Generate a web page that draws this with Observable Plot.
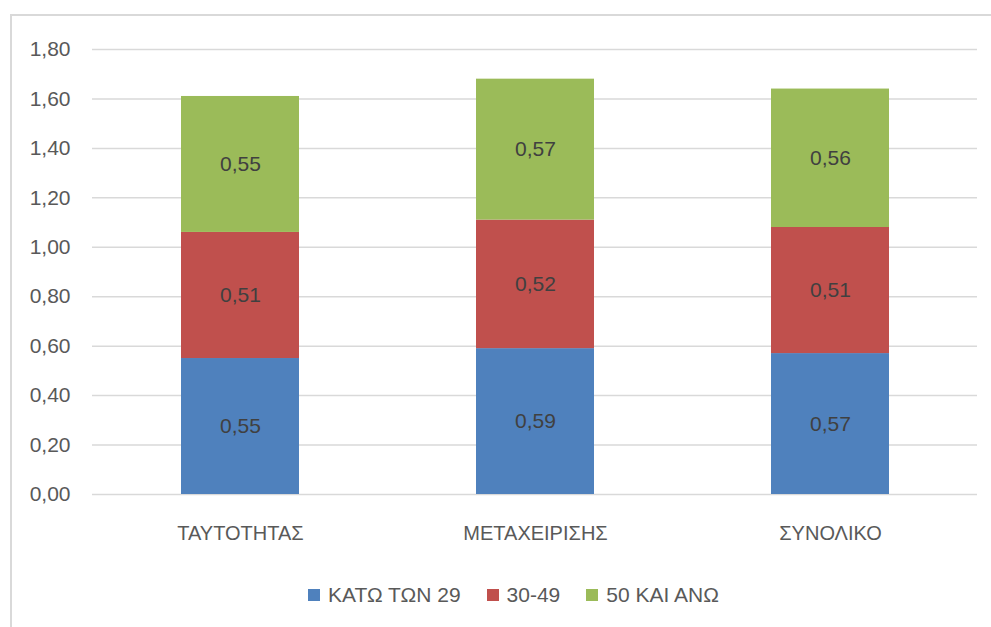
<!DOCTYPE html>
<html>
<head>
<meta charset="utf-8">
<script src="https://cdn.jsdelivr.net/npm/d3@7"></script>
<script src="https://cdn.jsdelivr.net/npm/@observablehq/plot@0.6"></script>
<style>
  html, body { margin: 0; padding: 0; background: #fff; overflow: hidden; width: 991px; height: 627px; }
  #wrap { position: relative; width: 991px; height: 627px; }
  #frame { position: absolute; left: 10px; top: 14px; width: 1100px; height: 800px; border: 2px solid #d9d9d9; box-sizing: border-box; }
  #chart { position: absolute; left: 0; top: 0; }
  #legend { position: absolute; left: 308px; top: 582px; height: 26px; display: flex; align-items: center; font-family: "Liberation Sans", Arial, sans-serif; font-size: 21px; color: #595959; white-space: nowrap; }
  #legend .item { display: flex; align-items: center; margin-right: 26px; }
  #legend .sw { width: 12px; height: 12px; margin-right: 8px; }
</style>
</head>
<body>
<div id="wrap">
  <div id="frame"></div>
  <div id="chart"></div>
  <div id="legend"></div>
</div>
<script>
const categories = ["ΤΑΥΤΟΤΗΤΑΣ", "ΜΕΤΑΧΕΙΡΙΣΗΣ", "ΣΥΝΟΛΙΚΟ"];
const seriesNames = ["ΚΑΤΩ ΤΩΝ 29", "30-49", "50 ΚΑΙ ΑΝΩ"];
const under29 = [0.55, 0.59, 0.57];
const age30to49 = [0.51, 0.52, 0.51];
const over50 = [0.55, 0.57, 0.56];
const seriesColors = ["#4F81BD", "#C0504D", "#9BBB59"];
const yTicks = [0, 0.2, 0.4, 0.6, 0.8, 1.0, 1.2, 1.4, 1.6, 1.8];

const seriesValues = [under29, age30to49, over50];
const data = [];
categories.forEach((c, i) => {
  seriesNames.forEach((s, j) => {
    data.push({category: c, series: s, value: seriesValues[j][i]});
  });
});

const fmt = d => d.toFixed(2).replace(".", ",");
const font = '"Liberation Sans", Arial, sans-serif';

const chart = Plot.plot({
  width: 991,
  height: 560,
  marginLeft: 92,
  marginRight: 14,
  marginTop: 49,
  marginBottom: 66,
  style: {fontFamily: font, fontSize: "20px", color: "#595959", background: "transparent"},
  x: {domain: categories, paddingInner: 0.6, paddingOuter: 0.3, label: null},
  y: {domain: [0, 1.8], label: null},
  color: {domain: seriesNames, range: seriesColors},
  marks: [
    Plot.gridY(yTicks, {stroke: "#d9d9d9", strokeOpacity: 1, strokeWidth: 1.5}),
    Plot.barY(data, {x: "category", y: "value", fill: "series", order: seriesNames}),
    Plot.text(data, Plot.stackY({x: "category", y: "value", z: "series", order: seriesNames,
      text: d => fmt(d.value), fill: "#404040", fontSize: 21})),
    Plot.axisY({ticks: yTicks, tickFormat: fmt, tickSize: 0, tickPadding: 22, fontSize: 21, label: null}),
    Plot.axisX({tickSize: 0, tickPadding: 31, fontSize: 20, label: null})
  ]
});
document.getElementById("chart").appendChild(chart);

const legend = document.getElementById("legend");
seriesNames.forEach((s, i) => {
  const item = document.createElement("div");
  item.className = "item";
  const sw = document.createElement("div");
  sw.className = "sw";
  sw.style.background = seriesColors[i];
  const t = document.createElement("span");
  t.textContent = s;
  item.appendChild(sw);
  item.appendChild(t);
  legend.appendChild(item);
});
</script>
</body>
</html>
